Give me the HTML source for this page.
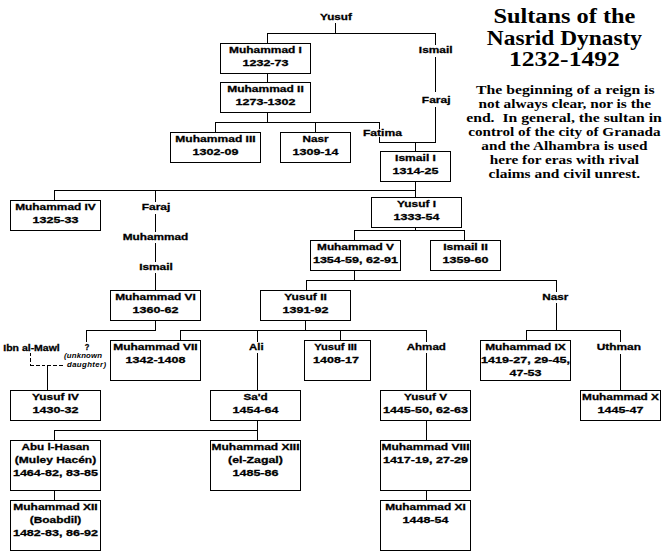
<!DOCTYPE html>
<html><head><meta charset="utf-8"><style>
html,body{margin:0;padding:0;background:#fff;width:670px;height:560px;overflow:hidden}
svg{display:block}
.s{font-family:"Liberation Sans", sans-serif;font-weight:bold;font-size:9.9px;fill:#000;stroke:#000;stroke-width:0.3px}
.t{font-family:"Liberation Serif", serif;font-weight:bold;fill:#000}
.i{font-family:"Liberation Sans", sans-serif;font-style:italic;fill:#000}
</style></head><body>
<svg width="670" height="560" viewBox="0 0 670 560">
<rect x="0" y="0" width="670" height="560" fill="#fff"/>
<g stroke="#000" stroke-width="1" fill="none" stroke-linecap="square" shape-rendering="crispEdges">
<path d="M335.5 23L335.5 33.5"/>
<path d="M267.5 33.5L435.5 33.5"/>
<path d="M267.5 33.5L267.5 43"/>
<path d="M435.5 33.5L435.5 44"/>
<path d="M435.5 57.5L435.5 91"/>
<path d="M435.5 107.5L435.5 142.5"/>
<path d="M267.5 73L267.5 82"/>
<path d="M267.5 112L267.5 122.5"/>
<path d="M215.5 122.5L379.5 122.5"/>
<path d="M215.5 122.5L215.5 132"/>
<path d="M315.5 122.5L315.5 132"/>
<path d="M379.5 122.5L379.5 128.5"/>
<path d="M379.5 137L379.5 142.5"/>
<path d="M379.5 142.5L435.5 142.5"/>
<path d="M415.5 142.5L415.5 151"/>
<path d="M415.5 181L415.5 197"/>
<path d="M54.5 190.5L415.5 190.5"/>
<path d="M54.5 190.5L54.5 200"/>
<path d="M155.5 190.5L155.5 201"/>
<path d="M155.5 214.5L155.5 231"/>
<path d="M155.5 243L155.5 261"/>
<path d="M155.5 273L155.5 290"/>
<path d="M415.5 227L415.5 230.5"/>
<path d="M354.5 230.5L464.5 230.5"/>
<path d="M354.5 230.5L354.5 240"/>
<path d="M464.5 230.5L464.5 240"/>
<path d="M354.5 270L354.5 280.5"/>
<path d="M306.5 280.5L556.5 280.5"/>
<path d="M306.5 280.5L306.5 290"/>
<path d="M556.5 280.5L556.5 291"/>
<path d="M556.5 303L556.5 330.5"/>
<path d="M526.5 330.5L620.5 330.5"/>
<path d="M526.5 330.5L526.5 340"/>
<path d="M620.5 330.5L620.5 341"/>
<path d="M620.5 354L620.5 390"/>
<path d="M155.5 320L155.5 330.5"/>
<path d="M86.5 330.5L155.5 330.5"/>
<path d="M86.5 330.5L86.5 341"/>
<path d="M305.5 320L305.5 330.5"/>
<path d="M180.5 330.5L426.5 330.5"/>
<path d="M180.5 330.5L180.5 340"/>
<path d="M257.5 330.5L257.5 341"/>
<path d="M257.5 353L257.5 390"/>
<path d="M340.5 330.5L340.5 340"/>
<path d="M426.5 330.5L426.5 341"/>
<path d="M426.5 353L426.5 390"/>
<path d="M47.5 365.5L47.5 390"/>
<path d="M257.5 420L257.5 440"/>
<path d="M54.5 430.5L257.5 430.5"/>
<path d="M54.5 430.5L54.5 440"/>
<path d="M54.5 490L54.5 500"/>
<path d="M426.5 420L426.5 440"/>
<path d="M426.5 490L426.5 500"/>
<path d="M30.5 352.5L30.5 365.5" stroke-dasharray="3.5,2.2" stroke-linecap="butt"/>
<path d="M30.5 365.5L64 365.5" stroke-dasharray="3.5,2.2" stroke-linecap="butt"/>
<rect x="220.5" y="43.5" width="90" height="30"/>
<rect x="220.5" y="82.5" width="90" height="30"/>
<rect x="170.5" y="132.5" width="90" height="30"/>
<rect x="280.5" y="132.5" width="70" height="30"/>
<rect x="380.5" y="151.5" width="70" height="30"/>
<rect x="10.5" y="200.5" width="90" height="30"/>
<rect x="371.5" y="197.5" width="90" height="30"/>
<rect x="310.5" y="240.5" width="90" height="30"/>
<rect x="430.5" y="240.5" width="70" height="30"/>
<rect x="110.5" y="290.5" width="90" height="30"/>
<rect x="260.5" y="290.5" width="90" height="30"/>
<rect x="110.5" y="340.5" width="90" height="40"/>
<rect x="304.5" y="340.5" width="66" height="40"/>
<rect x="480.5" y="340.5" width="90" height="40"/>
<rect x="10.5" y="390.5" width="90" height="30"/>
<rect x="210.5" y="390.5" width="90" height="30"/>
<rect x="380.5" y="390.5" width="90" height="30"/>
<rect x="580.5" y="390.5" width="80" height="30"/>
<rect x="10.5" y="440.5" width="90" height="50"/>
<rect x="210.5" y="440.5" width="90" height="50"/>
<rect x="380.5" y="440.5" width="90" height="50"/>
<rect x="10.5" y="500.5" width="90" height="50"/>
<rect x="380.5" y="500.5" width="90" height="50"/>
</g>
<text class="s" x="265.5" y="53.3" text-anchor="middle" textLength="72.89" lengthAdjust="spacingAndGlyphs" >Muhammad I</text>
<text class="s" x="265.5" y="66.0" text-anchor="middle" textLength="45.90" lengthAdjust="spacingAndGlyphs" >1232-73</text>
<text class="s" x="265.5" y="92.3" text-anchor="middle" textLength="76.61" lengthAdjust="spacingAndGlyphs" >Muhammad II</text>
<text class="s" x="265.5" y="105.0" text-anchor="middle" textLength="59.81" lengthAdjust="spacingAndGlyphs" >1273-1302</text>
<text class="s" x="215.5" y="142.3" text-anchor="middle" textLength="80.33" lengthAdjust="spacingAndGlyphs" >Muhammad III</text>
<text class="s" x="215.5" y="155.1" text-anchor="middle" textLength="45.90" lengthAdjust="spacingAndGlyphs" >1302-09</text>
<text class="s" x="315.5" y="142.3" text-anchor="middle" textLength="26.00" lengthAdjust="spacingAndGlyphs" >Nasr</text>
<text class="s" x="315.5" y="155.1" text-anchor="middle" textLength="45.90" lengthAdjust="spacingAndGlyphs" >1309-14</text>
<text class="s" x="415.5" y="161.3" text-anchor="middle" textLength="40.90" lengthAdjust="spacingAndGlyphs" >Ismail I</text>
<text class="s" x="415.5" y="174.1" text-anchor="middle" textLength="45.90" lengthAdjust="spacingAndGlyphs" >1314-25</text>
<text class="s" x="55.5" y="210.3" text-anchor="middle" textLength="80.62" lengthAdjust="spacingAndGlyphs" >Muhammad IV</text>
<text class="s" x="55.5" y="223.1" text-anchor="middle" textLength="45.90" lengthAdjust="spacingAndGlyphs" >1325-33</text>
<text class="s" x="416.5" y="207.3" text-anchor="middle" textLength="38.98" lengthAdjust="spacingAndGlyphs" >Yusuf I</text>
<text class="s" x="416.5" y="220.1" text-anchor="middle" textLength="45.90" lengthAdjust="spacingAndGlyphs" >1333-54</text>
<text class="s" x="355.5" y="250.3" text-anchor="middle" textLength="76.90" lengthAdjust="spacingAndGlyphs" >Muhammad V</text>
<text class="s" x="355.5" y="263.1" text-anchor="middle" textLength="85.16" lengthAdjust="spacingAndGlyphs" >1354-59, 62-91</text>
<text class="s" x="465.5" y="250.3" text-anchor="middle" textLength="44.62" lengthAdjust="spacingAndGlyphs" >Ismail II</text>
<text class="s" x="465.5" y="263.1" text-anchor="middle" textLength="45.90" lengthAdjust="spacingAndGlyphs" >1359-60</text>
<text class="s" x="155.5" y="300.3" text-anchor="middle" textLength="80.62" lengthAdjust="spacingAndGlyphs" >Muhammad VI</text>
<text class="s" x="155.5" y="313.1" text-anchor="middle" textLength="45.90" lengthAdjust="spacingAndGlyphs" >1360-62</text>
<text class="s" x="305.5" y="300.3" text-anchor="middle" textLength="42.71" lengthAdjust="spacingAndGlyphs" >Yusuf II</text>
<text class="s" x="305.5" y="313.1" text-anchor="middle" textLength="45.90" lengthAdjust="spacingAndGlyphs" >1391-92</text>
<text class="s" x="155.5" y="350.3" text-anchor="middle" textLength="84.35" lengthAdjust="spacingAndGlyphs" >Muhammad VII</text>
<text class="s" x="155.5" y="363.1" text-anchor="middle" textLength="59.81" lengthAdjust="spacingAndGlyphs" >1342-1408</text>
<text class="s" x="335.6" y="350.3" text-anchor="middle" textLength="42.8" lengthAdjust="spacingAndGlyphs" >Yusuf III</text>
<text class="s" x="336.0" y="363.1" text-anchor="middle" textLength="45.90" lengthAdjust="spacingAndGlyphs" >1408-17</text>
<text class="s" x="525.5" y="350.3" text-anchor="middle" textLength="80.60" lengthAdjust="spacingAndGlyphs" >Muhammad IX</text>
<text class="s" x="525.5" y="363.1" text-anchor="middle" textLength="88.96" lengthAdjust="spacingAndGlyphs" >1419-27, 29-45,</text>
<text class="s" x="525.5" y="375.8" text-anchor="middle" textLength="31.98" lengthAdjust="spacingAndGlyphs" >47-53</text>
<text class="s" x="55.5" y="400.3" text-anchor="middle" textLength="46.72" lengthAdjust="spacingAndGlyphs" >Yusuf IV</text>
<text class="s" x="55.5" y="413.1" text-anchor="middle" textLength="45.90" lengthAdjust="spacingAndGlyphs" >1430-32</text>
<text class="s" x="255.5" y="400.3" text-anchor="middle" textLength="24.17" lengthAdjust="spacingAndGlyphs" >Sa'd</text>
<text class="s" x="255.5" y="413.1" text-anchor="middle" textLength="45.90" lengthAdjust="spacingAndGlyphs" >1454-64</text>
<text class="s" x="425.5" y="400.3" text-anchor="middle" textLength="43.00" lengthAdjust="spacingAndGlyphs" >Yusuf V</text>
<text class="s" x="425.5" y="413.1" text-anchor="middle" textLength="85.16" lengthAdjust="spacingAndGlyphs" >1445-50, 62-63</text>
<text class="s" x="620.5" y="400.3" text-anchor="middle" textLength="76.88" lengthAdjust="spacingAndGlyphs" >Muhammad X</text>
<text class="s" x="620.5" y="413.1" text-anchor="middle" textLength="45.90" lengthAdjust="spacingAndGlyphs" >1445-47</text>
<text class="s" x="55.5" y="450.3" text-anchor="middle" textLength="68.01" lengthAdjust="spacingAndGlyphs" >Abu l-Hasan</text>
<text class="s" x="55.5" y="463.1" text-anchor="middle" textLength="81.37" lengthAdjust="spacingAndGlyphs" >(Muley Hacén)</text>
<text class="s" x="55.5" y="475.8" text-anchor="middle" textLength="85.16" lengthAdjust="spacingAndGlyphs" >1464-82, 83-85</text>
<text class="s" x="255.5" y="450.3" text-anchor="middle" textLength="88.04" lengthAdjust="spacingAndGlyphs" >Muhammad XIII</text>
<text class="s" x="255.5" y="463.1" text-anchor="middle" textLength="54.83" lengthAdjust="spacingAndGlyphs" >(el-Zagal)</text>
<text class="s" x="255.5" y="475.8" text-anchor="middle" textLength="45.90" lengthAdjust="spacingAndGlyphs" >1485-86</text>
<text class="s" x="425.5" y="450.3" text-anchor="middle" textLength="88.07" lengthAdjust="spacingAndGlyphs" >Muhammad VIII</text>
<text class="s" x="425.5" y="463.1" text-anchor="middle" textLength="85.16" lengthAdjust="spacingAndGlyphs" >1417-19, 27-29</text>
<text class="s" x="55.5" y="510.3" text-anchor="middle" textLength="84.32" lengthAdjust="spacingAndGlyphs" >Muhammad XII</text>
<text class="s" x="55.5" y="523.0" text-anchor="middle" textLength="51.55" lengthAdjust="spacingAndGlyphs" >(Boabdil)</text>
<text class="s" x="55.5" y="535.8" text-anchor="middle" textLength="85.16" lengthAdjust="spacingAndGlyphs" >1482-83, 86-92</text>
<text class="s" x="425.5" y="510.3" text-anchor="middle" textLength="80.60" lengthAdjust="spacingAndGlyphs" >Muhammad XI</text>
<text class="s" x="425.5" y="523.0" text-anchor="middle" textLength="45.90" lengthAdjust="spacingAndGlyphs" >1448-54</text>
<text class="s" x="335.9" y="20.3" text-anchor="middle" textLength="31.78" lengthAdjust="spacingAndGlyphs" >Yusuf</text>
<text class="s" x="435.7" y="53.0" text-anchor="middle" textLength="33.70" lengthAdjust="spacingAndGlyphs" >Ismail</text>
<text class="s" x="436.2" y="102.9" text-anchor="middle" textLength="28.69" lengthAdjust="spacingAndGlyphs" >Faraj</text>
<text class="s" x="382.4" y="135.9" text-anchor="middle" textLength="38.96" lengthAdjust="spacingAndGlyphs" >Fatima</text>
<text class="s" x="156.0" y="209.9" text-anchor="middle" textLength="28.69" lengthAdjust="spacingAndGlyphs" >Faraj</text>
<text class="s" x="155.5" y="239.7" text-anchor="middle" textLength="65.68" lengthAdjust="spacingAndGlyphs" >Muhammad</text>
<text class="s" x="156.0" y="269.6" text-anchor="middle" textLength="33.70" lengthAdjust="spacingAndGlyphs" >Ismail</text>
<text class="s" x="256.3" y="350.2" text-anchor="middle" textLength="14.59" lengthAdjust="spacingAndGlyphs" >Ali</text>
<text class="s" x="426.3" y="349.7" text-anchor="middle" textLength="39.18" lengthAdjust="spacingAndGlyphs" >Ahmad</text>
<text class="s" x="555.3" y="299.8" text-anchor="middle" textLength="26.00" lengthAdjust="spacingAndGlyphs" >Nasr</text>
<text class="s" x="618.8" y="349.5" text-anchor="middle" textLength="44.31" lengthAdjust="spacingAndGlyphs" >Uthman</text>
<text class="s" x="87.0" y="349.5" text-anchor="middle" textLength="4.6" lengthAdjust="spacingAndGlyphs" >?</text>
<text class="t" x="564.4" y="22.9" text-anchor="middle" textLength="141.96" lengthAdjust="spacingAndGlyphs" style="font-size:20.30px">Sultans of the</text>
<text class="t" x="564.4" y="45.0" text-anchor="middle" textLength="155.14" lengthAdjust="spacingAndGlyphs" style="font-size:20.46px">Nasrid Dynasty</text>
<text class="t" x="564.4" y="66.1" text-anchor="middle" textLength="110.90" lengthAdjust="spacingAndGlyphs" style="font-size:20.81px">1232-1492</text>
<text class="t" x="565.3" y="93.8" text-anchor="middle" textLength="178.56" lengthAdjust="spacingAndGlyphs" style="font-size:13.0px">The beginning of a reign is</text>
<text class="t" x="564.8" y="107.9" text-anchor="middle" textLength="172.52" lengthAdjust="spacingAndGlyphs" style="font-size:13.0px">not always clear, nor is the</text>
<text class="t" x="564.0" y="121.9" text-anchor="middle" textLength="195.68" lengthAdjust="spacingAndGlyphs" style="font-size:13.0px">end.  In general, the sultan in</text>
<text class="t" x="564.4" y="136.3" text-anchor="middle" textLength="192.35" lengthAdjust="spacingAndGlyphs" style="font-size:13.0px">control of the city of Granada</text>
<text class="t" x="564.4" y="150.1" text-anchor="middle" textLength="166.15" lengthAdjust="spacingAndGlyphs" style="font-size:13.0px">and the Alhambra is used</text>
<text class="t" x="564.4" y="164.2" text-anchor="middle" textLength="149.20" lengthAdjust="spacingAndGlyphs" style="font-size:13.0px">here for eras with rival</text>
<text class="t" x="564.4" y="178.3" text-anchor="middle" textLength="151.68" lengthAdjust="spacingAndGlyphs" style="font-size:13.0px">claims and civil unrest.</text>
<text class="s" x="31.5" y="350.8" text-anchor="middle" textLength="56.5" lengthAdjust="spacingAndGlyphs">Ibn al-Mawl</text>
<text class="i" x="83" y="357.8" text-anchor="middle" textLength="38" lengthAdjust="spacing" style="font-weight:bold;font-size:7.8px">(unknown</text>
<text class="i" x="86.5" y="366.8" text-anchor="middle" textLength="39" lengthAdjust="spacing" style="font-weight:bold;font-size:7.8px">daughter)</text>
</svg></body></html>
